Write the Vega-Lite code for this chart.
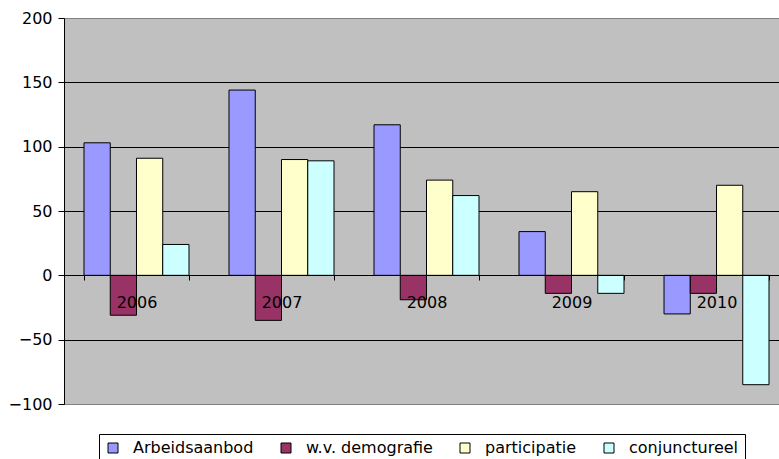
{
  "$schema": "https://vega.github.io/schema/vega-lite/v6.json",
  "width": 715,
  "height": 386,
  "autosize": "none",
  "padding": {"left": 64, "top": 18, "right": 0, "bottom": 55},
  "background": "white",
  "config": {
    "font": "DejaVu Sans",
    "view": {"fill": "#C0C0C0", "stroke": "#808080", "strokeWidth": 1}
  },
  "data": {
    "values": [
      {"jaar": "2006", "reeks": "Arbeidsaanbod", "waarde": 103},
      {"jaar": "2006", "reeks": "w.v. demografie", "waarde": -31},
      {"jaar": "2006", "reeks": "participatie", "waarde": 91},
      {"jaar": "2006", "reeks": "conjunctureel", "waarde": 24},
      {"jaar": "2007", "reeks": "Arbeidsaanbod", "waarde": 144},
      {"jaar": "2007", "reeks": "w.v. demografie", "waarde": -35},
      {"jaar": "2007", "reeks": "participatie", "waarde": 90},
      {"jaar": "2007", "reeks": "conjunctureel", "waarde": 89},
      {"jaar": "2008", "reeks": "Arbeidsaanbod", "waarde": 117},
      {"jaar": "2008", "reeks": "w.v. demografie", "waarde": -19},
      {"jaar": "2008", "reeks": "participatie", "waarde": 74},
      {"jaar": "2008", "reeks": "conjunctureel", "waarde": 62},
      {"jaar": "2009", "reeks": "Arbeidsaanbod", "waarde": 34},
      {"jaar": "2009", "reeks": "w.v. demografie", "waarde": -14},
      {"jaar": "2009", "reeks": "participatie", "waarde": 65},
      {"jaar": "2009", "reeks": "conjunctureel", "waarde": -14},
      {"jaar": "2010", "reeks": "Arbeidsaanbod", "waarde": -30},
      {"jaar": "2010", "reeks": "w.v. demografie", "waarde": -14},
      {"jaar": "2010", "reeks": "participatie", "waarde": 70},
      {"jaar": "2010", "reeks": "conjunctureel", "waarde": -85}
    ]
  },
  "mark": {"type": "bar", "stroke": "black", "strokeWidth": 1},
  "encoding": {
    "x": {
      "field": "jaar",
      "type": "nominal",
      "sort": null,
      "scale": {"paddingInner": 0.2759, "paddingOuter": 0.1034, "align": 0.667},
      "axis": {
        "title": null,
        "orient": "bottom",
        "offset": -129,
        "zindex": 1,
        "domainColor": "black",
        "domainWidth": 1,
        "tickBand": "extent",
        "tickColor": "black",
        "tickSize": 5,
        "labelAngle": 0,
        "labelFontSize": 16,
        "labelColor": "black",
        "labelPadding": 14,
        "grid": false
      }
    },
    "xOffset": {
      "field": "reeks",
      "type": "nominal",
      "sort": ["Arbeidsaanbod", "w.v. demografie", "participatie", "conjunctureel"],
      "scale": {"paddingInner": 0, "paddingOuter": 0}
    },
    "y": {
      "field": "waarde",
      "type": "quantitative",
      "scale": {"domain": [-100, 200], "nice": false, "zero": false},
      "axis": {
        "title": null,
        "values": [-100, -50, 0, 50, 100, 150, 200],
        "grid": true,
        "gridColor": {"condition": {"test": "datum.value === 200 || datum.value === -100", "value": "#808080"}, "value": "black"},
        "gridWidth": 1,
        "gridOpacity": 1,
        "domainColor": "black",
        "tickColor": "black",
        "tickSize": 6,
        "labelFontSize": 16,
        "labelColor": "black",
        "labelPadding": 6
      }
    },
    "fill": {
      "field": "reeks",
      "type": "nominal",
      "sort": ["Arbeidsaanbod", "w.v. demografie", "participatie", "conjunctureel"],
      "scale": {
        "domain": ["Arbeidsaanbod", "w.v. demografie", "participatie", "conjunctureel"],
        "range": ["#9999FF", "#993366", "#FFFFCC", "#CCFFFF"]
      },
      "legend": {
        "title": null,
        "orient": "none",
        "legendX": 35,
        "legendY": 416,
        "direction": "horizontal",
        "columns": 4,
        "strokeColor": "black",
        "fillColor": "white",
        "padding": 6,
        "symbolType": "square",
        "symbolSize": 100,
        "symbolStrokeColor": "black",
        "symbolStrokeWidth": 1,
        "labelFontSize": 16,
        "labelColor": "black",
        "labelOffset": 12,
        "columnPadding": 24
      }
    }
  }
}
